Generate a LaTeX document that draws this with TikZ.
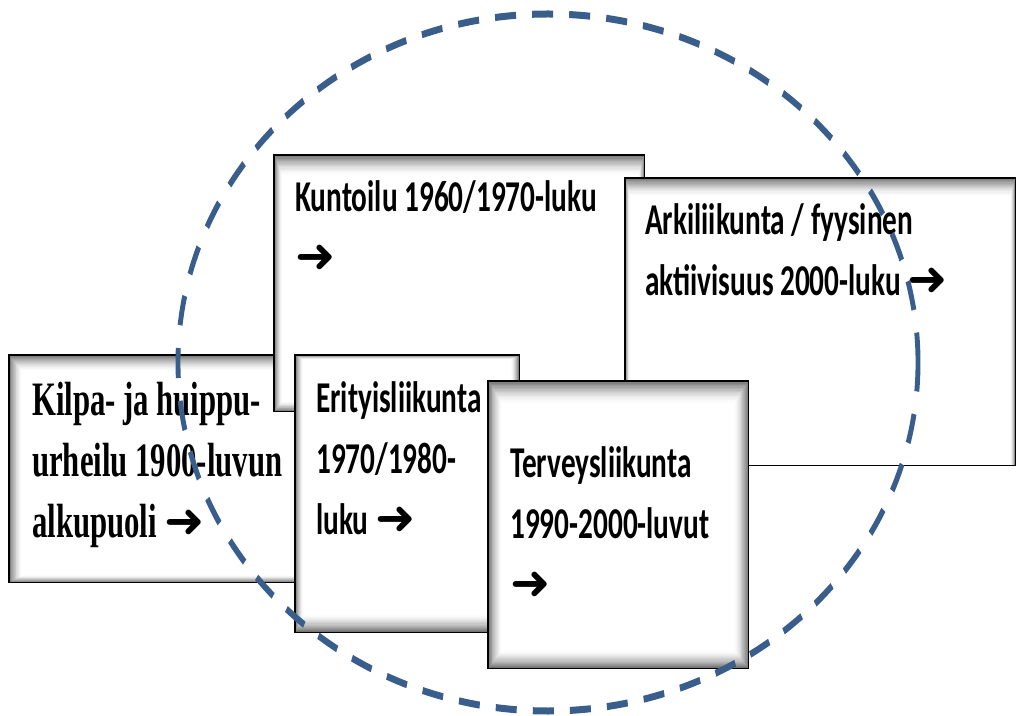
\documentclass[tikz,border=0pt]{standalone}
\usepackage{fontspec}
\newfontfamily\calb{Carlito}[FakeStretch=0.665]
\newfontfamily\tnr{Liberation Serif}[FakeStretch=0.64]
\newfontfamily\arrf{DejaVu Sans}
\definecolor{ringblue}{RGB}{58,94,140}
\newcommand\arr{{\arrf\fontsize{48}{48}\selectfont ➜}}
\newcommand\innershade[5]{%
  \foreach \i in {0,...,16}{%
    \pgfmathsetmacro\pc{55*(1-\i/16)^1.6}%
    \fill[black!\pc] ([xshift=#3*\i/16, yshift=-#2*\i/16]#1.north west) rectangle ([xshift=-#5*\i/16, yshift=#4*\i/16]#1.south east);
  }%
  \draw[bord] (#1.north west) rectangle (#1.south east);
}
\begin{document}
\begin{tikzpicture}[x=1pt,y=1pt,
  box/.style={rectangle, inner sep=0pt, anchor=north west, fill=white},
  bord/.style={draw=black, line width=1.3pt},
  ctext/.style={anchor=base west, inner sep=0pt, align=left, font={\calb\bfseries\fontsize{44}{61}\selectfont}},
  ttext/.style={anchor=base west, inner sep=0pt, align=left, font={\tnr\bfseries\fontsize{48}{61}\selectfont}},
  ring/.style={draw=ringblue, line width=7pt, dash pattern=on 30pt off 23pt}
]
\useasboundingbox (0,0) rectangle (1016,715);
\fill[white] (0,0) rectangle (1016,715);

% Kilpa
\node[box, minimum width=291, minimum height=227] (kilpa) at (9,360) {};
\innershade{kilpa}{16}{13}{7}{0}
\node[ttext] (kilpaT) at (32,178) {Kilpa- ja huippu-\\urheilu 1900-luvun\\alkupuoli \arr};

% Kuntoilu
\node[box, minimum width=370, minimum height=256] (kunto) at (274,560) {};
\innershade{kunto}{20}{8}{10}{6}
\node[ctext] (kuntoT) at (295,442) {Kuntoilu 1960/1970-luku\\\arr};

% Arkiliikunta
\node[box, minimum width=390, minimum height=287] (arki) at (625,537) {};
\innershade{arki}{18}{5}{0}{5}
\node[ctext] (arkiT) at (645,419) {Arkiliikunta / fyysinen\\aktiivisuus 2000-luku \arr};

% Erityisliikunta
\node[box, minimum width=224, minimum height=277] (erity) at (295,360) {};
\innershade{erity}{5}{8}{18}{8}
\node[ctext] (erityT) at (316,181) {Erityisliikunta\\1970/1980-\\luku \arr};

% Terveysliikunta
\node[box, minimum width=260, minimum height=287] (terve) at (488,334) {};
\innershade{terve}{22}{14}{18}{14}
\node[ctext] (terveT) at (510,116) {Terveysliikunta\\1990-2000-luvut\\\arr};

% dashed ring (horizontally squeezed ellipse)
\begin{scope}[transform canvas={xscale=0.7}]
  \draw[ring] (782.86,352.5) ellipse [x radius=528.6, y radius=348.5];
\end{scope}
\end{tikzpicture}
\end{document}
